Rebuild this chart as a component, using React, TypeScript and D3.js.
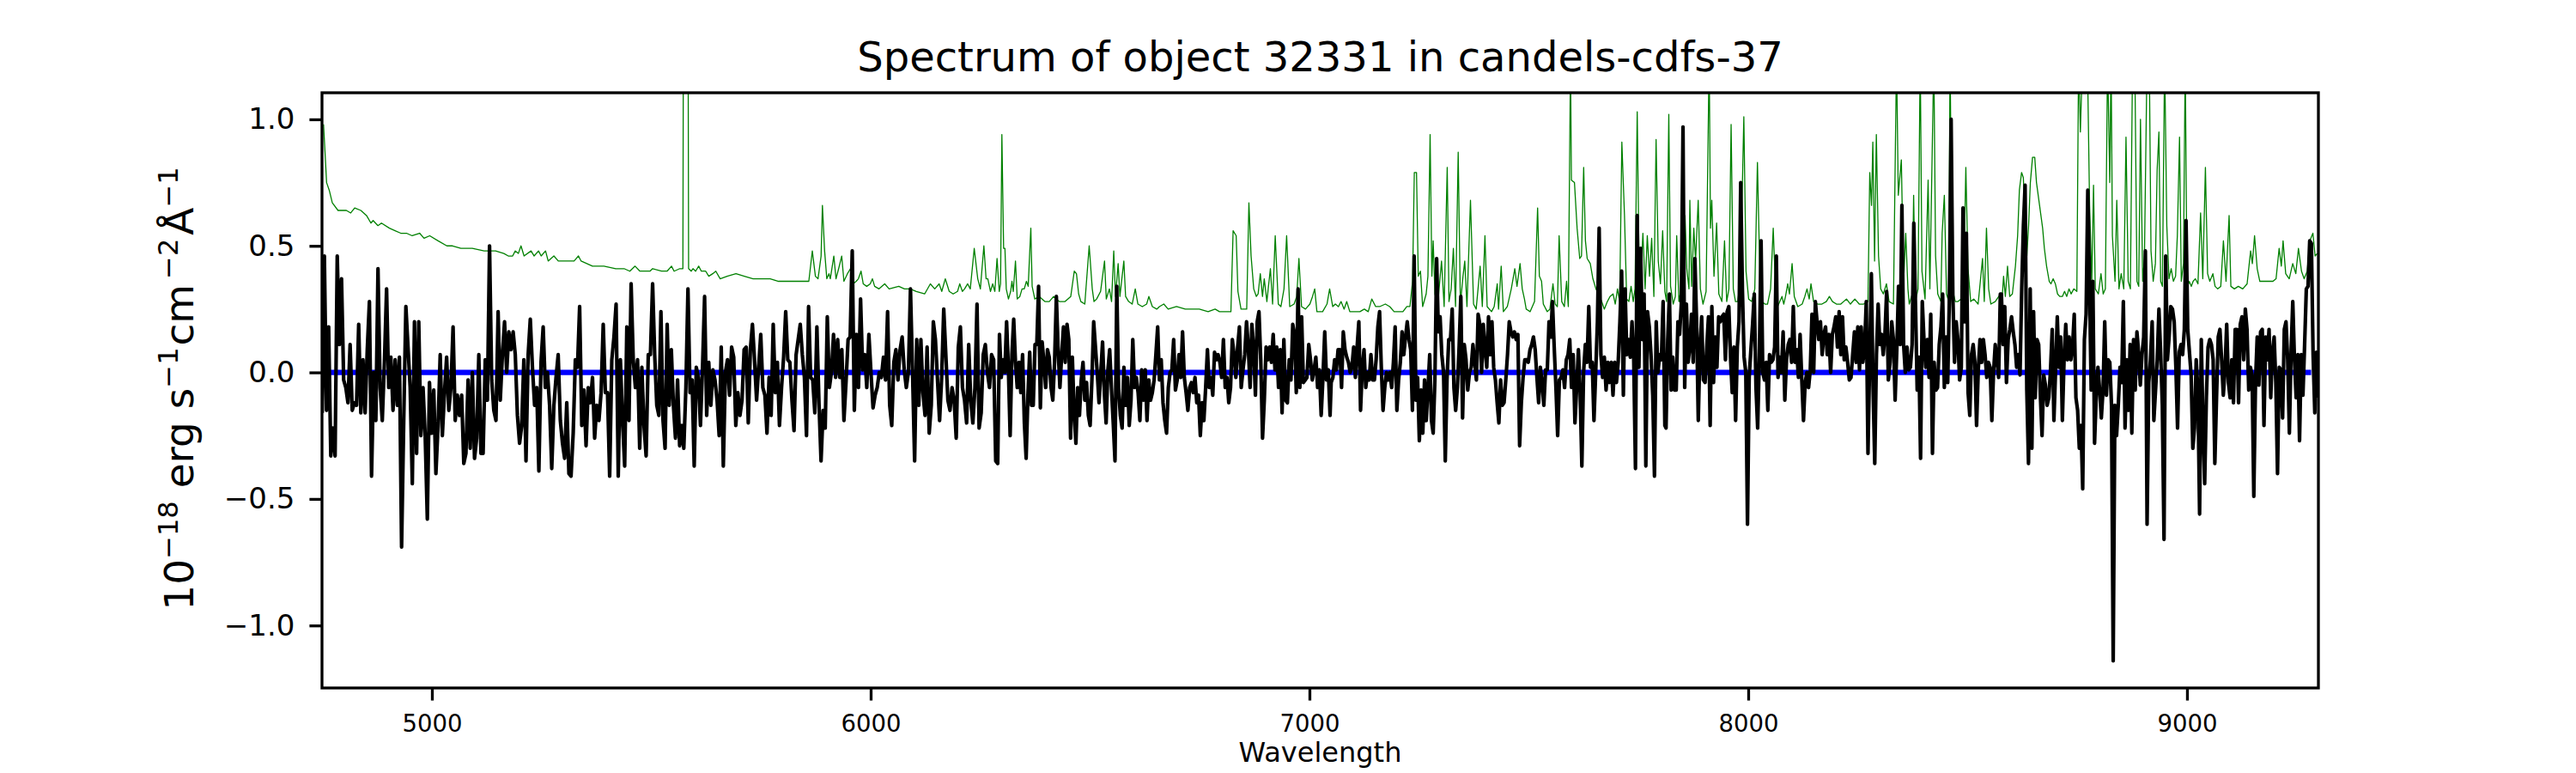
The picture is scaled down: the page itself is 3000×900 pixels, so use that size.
import React, { useEffect, useRef } from "react";
import * as d3 from "d3";

const FLUX_RANGES: [number, number][] = [
  [4750, 5498],
  [5503, 6285],
  [6289.5, 7047],
  [7049.5, 7810],
  [7812.7, 8574.6],
  [8577, 9299],
];

const FLUX_1 = [
  -0.16, 0.46, -0.15, 0.18, -0.33, -0.22, -0.33, 0.46, 0.11, 0.37, -0.03, -0.06, -0.12, 0.11, -0.15, -0.12, -0.13, 0.19,
  -0.16, 0.05, -0.16, 0.09, 0.28, -0.41, 0.0, -0.19, 0.41, -0.06, -0.19, 0.04, 0.33, -0.06, 0.06, -0.15, 0.05, -0.13, 0.06,
  -0.69, -0.19, 0.26, 0.1, -0.06, -0.44, 0.2, -0.32, 0.2, -0.25, -0.06, -0.25, -0.58, -0.04, -0.24, -0.07, -0.4, -0.21,
  0.07, -0.25, -0.08, 0.06, -0.15, -0.06, 0.18, -0.19, -0.09, -0.17, -0.09, -0.36, -0.32, -0.03, -0.3, 0.0, -0.34, -0.26,
  0.07, -0.32, -0.32, 0.05, -0.11, 0.5, -0.03, -0.15, -0.19, 0.24, -0.11, 0.07, 0.2, 0.0, 0.16, 0.09, 0.16, 0.07, -0.17,
  -0.28, -0.21, 0.05, -0.35, 0.07, 0.21, 0.02, -0.13, -0.06, -0.39, 0.04, 0.18, -0.06, 0.0, -0.13, -0.38, -0.13, -0.02,
  0.07, -0.19, -0.28, -0.34, -0.12, -0.4, -0.41, -0.24, 0.05, 0.02, 0.26, -0.21, -0.07, -0.29, -0.06, -0.12, -0.02, -0.26,
  -0.13, -0.19, -0.08, 0.19, -0.08, -0.08, -0.41, 0.05, 0.14, 0.27, -0.41, 0.05, -0.19, -0.37, 0.18, -0.19, 0.35, 0.05,
  -0.06, 0.05, -0.3, 0.02, -0.21, -0.33, 0.07, 0.07,
];

const FLUX_2 = [
  0.35, 0.07, -0.13, -0.17, 0.24, -0.19, -0.3, 0.19, -0.13, 0.09, -0.13, -0.26, -0.03, -0.29, -0.21, -0.3, -0.06, 0.33,
  -0.08, -0.03, -0.37, 0.02, -0.02, -0.21, 0.02, 0.3, -0.17, 0.04, -0.13, 0.01, -0.03, -0.11, -0.25, 0.1, -0.37, 0.0, 0.05,
  -0.09, 0.1, 0.06, -0.21, -0.08, -0.17, -0.11, 0.09, 0.1, -0.2, 0.09, 0.19, 0.05, -0.11, 0.02, 0.15, -0.06, -0.09, -0.24,
  -0.02, -0.17, 0.19, -0.08, 0.04, -0.21, -0.06, 0.06, 0.24, 0.05, 0.04, -0.11, -0.23, 0.07, 0.13, 0.19, 0.07, -0.02, -0.25,
  0.26, -0.02, -0.03, -0.16, 0.18, -0.12, -0.35, -0.15, -0.22, 0.22, -0.06, 0.0, 0.15, -0.02, 0.13, -0.02, 0.09, -0.19,
  -0.04, 0.13, 0.14, 0.48, -0.15, 0.15, -0.06, 0.29, 0.01, 0.07, -0.06, 0.15, 0.0, -0.14, -0.09, -0.06, 0.0, -0.02, 0.06,
  -0.03, 0.24, -0.13, -0.21, 0.04, 0.09, -0.03, 0.09, 0.14, 0.01, -0.06, 0.0, 0.33, 0.0, -0.35, 0.13, -0.13, 0.13, -0.08,
  -0.17, 0.1, -0.24, -0.13, 0.2, 0.13, -0.03, -0.19, -0.02, 0.25, 0.07, -0.11, -0.15, -0.06, -0.11, -0.26, 0.1, 0.18, -0.06,
  -0.11, -0.2, 0.11, -0.11, -0.2, -0.06, 0.27, -0.22, -0.16, 0.07, 0.11, 0.0, -0.06, 0.07, 0.05, -0.35,
];

const FLUX_3 = [
  -0.36, 0.15, -0.02, 0.05, 0.0, 0.2, 0.02, -0.25, 0.07, 0.21, 0.04, -0.06, 0.04, -0.08, 0.07, -0.2, -0.34, -0.09, 0.08,
  -0.13, -0.13, 0.11, 0.11, 0.34, -0.14, 0.12, 0.04, -0.06, 0.09, 0.06, -0.06, -0.11, 0.04, 0.3, 0.09, -0.06, 0.07, 0.18,
  0.04, 0.19, 0.13, -0.26, 0.06, -0.16, -0.28, -0.06, -0.17, -0.03, 0.04, -0.11, -0.04, -0.17, -0.21, -0.03, 0.2, 0.1, 0.0,
  -0.12, 0.0, 0.12, -0.08, -0.2, 0.01, 0.09, -0.06, -0.2, -0.35, 0.34, -0.06, -0.17, -0.22, 0.02, -0.13, -0.02, -0.21,
  -0.11, 0.13, -0.06, -0.02, -0.08, -0.19, 0.01, -0.11, 0.01, -0.19, -0.03, -0.11, -0.08, -0.03, 0.07, 0.18, -0.03, 0.05,
  -0.12, -0.19, -0.24, -0.06, 0.0, 0.01, 0.13, -0.07, -0.03, 0.07, -0.02, 0.16, -0.02, -0.08, -0.15, -0.06, -0.04, -0.08,
  -0.02, -0.12, -0.09, -0.25, -0.12, -0.19, -0.06, 0.09, -0.06, -0.02, -0.09, 0.08, 0.05, 0.07, 0.04, -0.02, 0.13, -0.06,
  -0.02, -0.12, -0.06, 0.13, 0.07, -0.02, 0.1, 0.18, -0.06, 0.01, 0.07, 0.2, 0.1, -0.06, 0.19, 0.1, -0.09, 0.2, 0.24, 0.05,
  -0.26, -0.11, 0.1, 0.05, 0.1, 0.04, 0.15, 0.01, 0.1, -0.06, 0.09, -0.16, 0.13, -0.11, -0.12, 0.05, -0.03, 0.19, 0.15,
  -0.08, 0.33, -0.06, 0.22, -0.04, -0.03, -0.02, 0.11, 0.05, -0.03, 0.01, 0.06, -0.06, 0.01, -0.17, -0.02, 0.16, -0.03,
  0.01, -0.17,
];

const FLUX_4 = [
  -0.04, -0.02, 0.05, 0.01, 0.09, 0.09, -0.06, 0.16, 0.09, 0.06, 0.04, 0.0, 0.02, 0.1, -0.02, 0.1, 0.2, -0.15, 0.02, 0.09,
  -0.06, 0.0, -0.03, 0.07, -0.03, -0.03, 0.05, 0.18, 0.24, 0.02, -0.15, -0.06, 0.0, -0.03, 0.0, -0.06, 0.04, 0.18, -0.15,
  -0.03, 0.04, 0.16, 0.07, 0.14, 0.2, 0.13, 0.09, -0.15, 0.46, -0.11, -0.02, -0.27, -0.07, -0.24, -0.03, -0.19, -0.06, 0.07,
  -0.19, -0.24, -0.03, 0.45, 0.16, 0.22, 0.07, 0.0, -0.35, -0.03, 0.13, 0.13, 0.25, -0.06, -0.15, -0.06, 0.1, 0.3, -0.18,
  0.11, 0.05, -0.07, 0.0, 0.02, 0.11, 0.04, -0.03, 0.23, 0.19, 0.0, 0.19, 0.09, 0.02, 0.22, 0.07, 0.2, 0.02, -0.03, -0.12,
  -0.2, -0.03, -0.13, -0.12, -0.03, 0.07, 0.2, 0.16, 0.14, 0.16, 0.13, 0.15, -0.29, -0.12, -0.02, 0.05, 0.05, 0.04, 0.09,
  0.11, 0.14, 0.09, -0.02, -0.12, 0.02, -0.04, -0.13, 0.01, 0.01, 0.2, 0.14, 0.28, 0.1, -0.06, -0.25, -0.03, -0.02, 0.01,
  -0.06, 0.05, 0.07, 0.13, -0.06, 0.07, -0.2, -0.06, 0.09, -0.08, -0.37, 0.0, 0.11, 0.04, 0.26, 0.02, 0.04, -0.19, 0.0, 0.2,
  0.57, 0.07, -0.02, 0.06, -0.07, 0.04, -0.04, 0.04, -0.09, 0.04, -0.04, 0.04, 0.2, 0.4, -0.09, 0.33, 0.07, 0.13, 0.06, 0.2,
  0.05, -0.38, 0.62, 0.02, 0.49, 0.13, 0.31, -0.37, 0.24, 0.18, 0.07, -0.09, -0.41, 0.2, 0.0, 0.07, 0.05, 0.28, -0.21,
];

const FLUX_5 = [
  -0.22, 0.13, 0.31, -0.07, 0.06, -0.07, -0.07, 0.2, 0.15, 0.27, 0.97, -0.06, 0.27, 0.04, 0.1, 0.23, 0.04, 0.45, 0.2, -0.19,
  0.1, 0.22, -0.03, -0.04, 0.1, 0.22, -0.21, 0.26, -0.04, 0.14, 0.02, 0.22, 0.2, 0.22, 0.23, 0.05, 0.24, 0.26, 0.06, -0.08,
  0.1, -0.19, 0.1, 0.2, 0.75, 0.33, 0.06, 0.0, -0.6, -0.02, 0.09, 0.19, 0.31, -0.06, -0.22, 0.07, 0.52, 0.0, -0.03, 0.04,
  -0.15, 0.07, 0.04, 0.05, 0.1, 0.46, -0.02, 0.06, 0.0, 0.16, -0.11, 0.05, 0.11, 0.13, 0.04, 0.26, 0.04, 0.09, -0.02, 0.15,
  -0.03, -0.19, -0.04, 0.0, -0.06, 0.01, 0.23, 0.0, 0.28, 0.2, 0.13, 0.2, 0.07, 0.15, 0.18, 0.07, 0.15, 0.0, 0.15, 0.18,
  0.22, 0.1, 0.24, 0.07, 0.22, 0.05, 0.1, 0.04, -0.03, -0.02, 0.07, 0.16, 0.04, 0.18, 0.01, 0.18, 0.04, 0.1, 0.28, -0.32,
  0.05, 0.39, -0.06, -0.36, 0.07, 0.27, 0.11, 0.15, 0.07, 0.15, 0.32, -0.03, 0.04, 0.2, 0.13, -0.11, 0.09, 0.34, 0.11, 0.66,
  0.11, 0.0, 0.1, 0.01, 0.02, 0.11, 0.59, 0.27, -0.07, 0.06, -0.34, 0.28, 0.13, 0.02, 0.13, -0.02, 0.23, -0.32, 0.04, -0.07,
  -0.06, 0.11, 0.18, 0.31, -0.06, 0.14, -0.04, 0.31, 1.0, 0.31, 0.04, 0.2, 0.13, -0.03, 0.02, 0.65, 0.2, 0.55, -0.08, -0.17,
  0.07, 0.11, 0.04, -0.21, 0.01, 0.13, 0.04, 0.13, 0.07, -0.02, 0.04, 0.02, -0.19, 0.0, 0.11, 0.05, -0.02, 0.31,
];

const FLUX_6 = [
  0.31, 0.11, 0.26, -0.04, 0.13, 0.17, 0.22, 0.16, 0.11, 0.02, 0.07, -0.01, 0.33, 0.58, 0.74, -0.07, -0.36, 0.33, -0.3, 0.24,
  -0.1, 0.13, 0.11, -0.09, -0.25, -0.01, -0.05, -0.13, -0.1, 0.01, 0.17, -0.19, 0.01, 0.22, 0.02, 0.14, -0.19, 0.05, 0.19,
  0.05, 0.14, 0.05, 0.1, 0.23, -0.1, -0.15, -0.3, -0.21, -0.46, 0.13, 0.23, 0.72, 0.36, -0.07, 0.36, -0.28, -0.09, 0.02,
  -0.07, -0.18, -0.07, 0.2, -0.09, 0.05, 0.04, -0.13, -1.14, -0.13, -0.25, -0.13, 0.02, -0.04, 0.28, -0.22, 0.05, -0.15,
  0.11, -0.24, 0.13, -0.07, 0.16, 0.08, -0.05, 0.07, 0.14, 0.48, -0.6, -0.04, 0.05, 0.2, -0.19, -0.07, 0.05, 0.25, 0.08,
  -0.13, -0.66, 0.46, 0.05, 0.14, 0.26, 0.25, 0.2, 0.02, -0.22, 0.08, 0.11, 0.07, 0.17, 0.6, 0.17, 0.08, -0.01, -0.3, -0.22,
  0.05, -0.07, -0.56, 0.13, -0.21, -0.44, -0.1, 0.1, 0.13, 0.11, 0.05, -0.36, -0.1, 0.14, 0.17, 0.05, -0.09, 0.01, 0.19,
  -0.04, -0.1, 0.05, -0.12, 0.17, 0.17, -0.12, 0.19, 0.22, 0.05, 0.25, 0.17, -0.07, 0.02, -0.01, -0.49, -0.04, 0.14, -0.05,
  0.16, 0.17, -0.21, 0.14, 0.05, 0.17, -0.1, 0.08, 0.14, -0.04, -0.4, 0.02, 0.01, -0.18, 0.17, 0.2, 0.05, -0.24, 0.08, 0.28,
  0.05, -0.1, 0.07, -0.27, 0.07, -0.09, 0.11, 0.33, 0.34, 0.52, 0.51, 0.07, -0.16, 0.08, -0.1,
];

// Noise spectrum, [wavelength, value]; sky lines run past the top of the axes
const ERR_1: [number, number][] = [
  [4753, 0.98], [4760, 0.75], [4766, 0.72], [4773, 0.67], [4786, 0.64], [4805, 0.64], [4815, 0.63], [4824, 0.65],
  [4838, 0.64], [4851, 0.62], [4861, 0.59], [4866, 0.6], [4877, 0.58], [4885, 0.59], [4903, 0.57], [4916, 0.56],
  [4929, 0.55], [4942, 0.55], [4955, 0.54], [4972, 0.55], [4982, 0.53], [4995, 0.54], [5014, 0.52], [5034, 0.5],
  [5047, 0.5], [5066, 0.49], [5092, 0.49], [5119, 0.48], [5145, 0.48], [5164, 0.47], [5174, 0.46], [5184, 0.46],
  [5190, 0.48], [5197, 0.47], [5203, 0.5], [5210, 0.46], [5226, 0.48], [5233, 0.46], [5243, 0.48], [5249, 0.46],
  [5259, 0.48], [5265, 0.44], [5278, 0.46], [5288, 0.44], [5301, 0.44], [5314, 0.44], [5324, 0.44], [5334, 0.46],
  [5340, 0.44], [5366, 0.42], [5392, 0.42], [5419, 0.41], [5438, 0.41], [5451, 0.4], [5463, 0.42], [5474, 0.4],
  [5497, 0.4],
];

const ERR_2: [number, number][] = [
  [5503, 0.41], [5523, 0.4], [5536, 0.4], [5546, 0.42], [5552, 0.4], [5565, 0.41], [5572, 0.41], [5575, 3.0], [5582, 3.0],
  [5585, 0.41], [5591, 0.4], [5595, 0.41], [5601, 0.4], [5608, 0.42], [5614, 0.4], [5624, 0.4], [5631, 0.38], [5640, 0.39],
  [5647, 0.4], [5657, 0.37], [5673, 0.38], [5693, 0.39], [5712, 0.38], [5732, 0.37], [5751, 0.37], [5771, 0.37],
  [5790, 0.36], [5810, 0.36], [5830, 0.36], [5859, 0.36], [5867, 0.48], [5874, 0.38], [5880, 0.37], [5887, 0.46],
  [5890, 0.66], [5895, 0.48], [5900, 0.37], [5905, 0.39], [5908, 0.37], [5916, 0.46], [5921, 0.37], [5927, 0.41],
  [5934, 0.46], [5939, 0.36], [5947, 0.39], [5954, 0.41], [5960, 0.35], [5967, 0.36], [5972, 0.37], [5978, 0.4],
  [5983, 0.35], [5991, 0.34], [5999, 0.35], [6004, 0.37], [6009, 0.34], [6019, 0.33], [6032, 0.35], [6042, 0.33],
  [6064, 0.34], [6077, 0.33], [6090, 0.33], [6104, 0.32], [6123, 0.31], [6136, 0.35], [6146, 0.33], [6156, 0.35],
  [6162, 0.32], [6170, 0.37], [6179, 0.32], [6188, 0.31], [6198, 0.32], [6203, 0.35], [6209, 0.32], [6214, 0.33],
  [6221, 0.35], [6227, 0.33], [6236, 0.49], [6244, 0.37], [6250, 0.33], [6258, 0.5], [6263, 0.37],
];

const ERR_3: [number, number][] = [
  [6267, 0.37], [6273, 0.32], [6278, 0.35], [6283, 0.32], [6288, 0.45], [6293, 0.32], [6296, 0.35], [6299, 0.94],
  [6303, 0.49], [6306, 0.49], [6309, 0.33], [6314, 0.29], [6319, 0.32], [6322, 0.36], [6325, 0.32], [6330, 0.44],
  [6334, 0.29], [6340, 0.3], [6345, 0.33], [6350, 0.33], [6355, 0.36], [6359, 0.34], [6365, 0.57], [6368, 0.34],
  [6374, 0.29], [6384, 0.3], [6397, 0.28], [6407, 0.28], [6417, 0.3], [6422, 0.29], [6430, 0.28], [6443, 0.28],
  [6456, 0.3], [6464, 0.4], [6469, 0.39], [6474, 0.31], [6479, 0.28], [6488, 0.27], [6498, 0.5], [6505, 0.33],
  [6509, 0.28], [6515, 0.29], [6524, 0.32], [6533, 0.44], [6537, 0.29], [6544, 0.33], [6549, 0.28], [6554, 0.48],
  [6558, 0.3], [6564, 0.43], [6568, 0.3], [6577, 0.44], [6581, 0.3], [6588, 0.28], [6596, 0.27], [6603, 0.33],
  [6609, 0.27], [6619, 0.26], [6629, 0.27], [6634, 0.3], [6642, 0.26], [6652, 0.25], [6658, 0.26], [6668, 0.27],
  [6678, 0.25], [6697, 0.26], [6717, 0.25], [6736, 0.25], [6749, 0.25], [6769, 0.24], [6785, 0.25], [6795, 0.24],
  [6821, 0.24], [6826, 0.56], [6833, 0.54], [6837, 0.32], [6844, 0.25], [6857, 0.25], [6862, 0.67], [6867, 0.46],
  [6873, 0.33], [6879, 0.3], [6883, 0.31], [6888, 0.39], [6893, 0.3], [6897, 0.37], [6903, 0.28], [6906, 0.33],
  [6911, 0.41], [6916, 0.27], [6922, 0.54], [6929, 0.27], [6935, 0.26], [6942, 0.33], [6948, 0.54], [6955, 0.26],
  [6965, 0.27], [6971, 0.3], [6976, 0.45], [6982, 0.26], [6991, 0.25], [7001, 0.27], [7007, 0.3], [7012, 0.33],
  [7017, 0.24], [7027, 0.24],
];

const ERR_4: [number, number][] = [
  [7030, 0.24], [7040, 0.27], [7046, 0.33], [7053, 0.26], [7059, 0.27], [7066, 0.26], [7072, 0.28], [7079, 0.25],
  [7085, 0.28], [7092, 0.24], [7102, 0.24], [7115, 0.24], [7125, 0.25], [7134, 0.24], [7142, 0.29], [7151, 0.26],
  [7160, 0.26], [7173, 0.27], [7183, 0.26], [7193, 0.24], [7203, 0.24], [7213, 0.24], [7222, 0.26], [7229, 0.26],
  [7235, 0.36], [7239, 0.79], [7244, 0.79], [7248, 0.38], [7253, 0.4], [7258, 0.26], [7266, 0.31], [7270, 0.38],
  [7275, 0.94], [7279, 0.38], [7282, 0.52], [7286, 0.31], [7292, 0.26], [7301, 0.44], [7307, 0.26], [7314, 0.81],
  [7318, 0.28], [7323, 0.33], [7328, 0.49], [7333, 0.26], [7339, 0.87], [7344, 0.27], [7350, 0.38], [7354, 0.44],
  [7359, 0.26], [7367, 0.68], [7374, 0.27], [7380, 0.25], [7389, 0.42], [7394, 0.26], [7400, 0.54], [7405, 0.26],
  [7415, 0.24], [7421, 0.26], [7428, 0.35], [7431, 0.25], [7437, 0.42], [7442, 0.24], [7451, 0.26], [7460, 0.33],
  [7468, 0.41], [7473, 0.34], [7480, 0.43], [7485, 0.33], [7490, 0.29], [7494, 0.25], [7503, 0.24], [7513, 0.28],
  [7520, 0.65], [7524, 0.38], [7529, 0.36], [7533, 0.27], [7542, 0.24], [7548, 0.25], [7555, 0.35], [7560, 0.27],
  [7565, 0.26], [7569, 0.54], [7575, 0.28], [7581, 0.26], [7586, 0.36], [7590, 0.26], [7595, 1.25], [7597, 0.76],
  [7604, 0.75], [7610, 0.57], [7616, 0.45], [7620, 0.46], [7625, 0.81], [7629, 0.52], [7633, 0.45], [7640, 0.43],
  [7646, 0.37], [7653, 0.33], [7659, 0.31], [7666, 0.28], [7672, 0.25], [7679, 0.28], [7685, 0.3], [7692, 0.31],
  [7697, 0.27], [7702, 0.33], [7707, 0.28], [7712, 0.91], [7718, 0.62], [7723, 0.29], [7728, 0.28], [7733, 0.34],
  [7738, 0.28], [7742, 0.33], [7747, 1.03], [7751, 0.46], [7755, 0.37], [7760, 0.55], [7765, 0.33], [7770, 0.54],
  [7775, 0.38], [7780, 0.53], [7785, 0.3], [7790, 0.92], [7795, 0.44], [7800, 0.35], [7805, 0.56], [7810, 0.32],
];

const ERR_5: [number, number][] = [
  [7814, 0.28], [7819, 1.02], [7823, 0.34], [7829, 0.27], [7834, 0.3], [7837, 0.54], [7842, 0.28], [7847, 0.33],
  [7852, 0.31], [7856, 0.62], [7860, 0.41], [7865, 0.33], [7867, 0.68], [7871, 0.34], [7876, 0.57], [7880, 0.44],
  [7886, 0.68], [7891, 0.33], [7897, 0.27], [7904, 0.32], [7911, 1.25], [7914, 0.57], [7917, 0.68], [7922, 0.38],
  [7928, 0.59], [7933, 0.31], [7940, 0.28], [7946, 0.52], [7951, 0.28], [7956, 0.33], [7961, 0.98], [7966, 0.33],
  [7971, 0.28], [7976, 0.28], [7982, 0.36], [7990, 1.01], [7995, 0.4], [8001, 0.29], [8008, 0.28], [8015, 0.33],
  [8021, 0.83], [8027, 0.35], [8031, 0.28], [8038, 0.27], [8044, 0.27], [8051, 0.33], [8057, 0.57], [8062, 0.34],
  [8067, 0.26], [8072, 0.28], [8077, 0.3], [8081, 0.27], [8085, 0.3], [8090, 0.35], [8094, 0.31], [8100, 0.43],
  [8105, 0.3], [8113, 0.26], [8123, 0.27], [8129, 0.3], [8134, 0.33], [8139, 0.29], [8143, 0.35], [8149, 0.28],
  [8158, 0.27], [8168, 0.27], [8178, 0.28], [8185, 0.3], [8192, 0.28], [8201, 0.27], [8211, 0.27], [8224, 0.29],
  [8233, 0.27], [8243, 0.29], [8253, 0.27], [8263, 0.27], [8273, 0.28], [8277, 0.79], [8281, 0.66], [8284, 0.91],
  [8288, 0.44], [8292, 0.94], [8297, 0.46], [8302, 0.33], [8308, 0.31], [8315, 0.35], [8321, 0.28], [8331, 0.27],
  [8338, 1.25], [8342, 0.7], [8349, 0.84], [8354, 0.35], [8359, 0.55], [8364, 0.33], [8367, 0.27], [8374, 0.31],
  [8377, 0.7], [8381, 0.28], [8387, 0.33], [8392, 1.25], [8396, 0.4], [8403, 0.29], [8410, 0.76], [8414, 0.33],
  [8423, 1.25], [8427, 0.46], [8432, 0.31], [8439, 0.28], [8442, 0.55], [8447, 0.7], [8452, 0.31], [8457, 0.28],
  [8460, 1.25], [8465, 0.33], [8472, 0.28], [8478, 0.28], [8485, 0.29], [8491, 0.36], [8496, 0.81], [8501, 0.41],
  [8507, 0.28], [8514, 0.29], [8524, 0.27], [8534, 0.45], [8538, 0.28], [8543, 0.57], [8548, 0.33], [8553, 0.27],
  [8563, 0.28], [8575, 0.31],
];

const ERR_6: [number, number][] = [
  [8579, 0.3], [8582, 0.38], [8586, 0.3], [8591, 0.42], [8596, 0.3], [8602, 0.31], [8609, 0.42], [8614, 0.54], [8618, 0.72],
  [8623, 0.79], [8627, 0.77], [8631, 0.61], [8635, 0.46], [8639, 0.58], [8643, 0.75], [8648, 0.85], [8653, 0.85],
  [8657, 0.75], [8664, 0.66], [8671, 0.57], [8675, 0.49], [8680, 0.42], [8686, 0.36], [8690, 0.35], [8695, 0.37],
  [8700, 0.35], [8705, 0.31], [8710, 0.3], [8716, 0.3], [8721, 0.32], [8726, 0.3], [8731, 0.33], [8736, 0.31],
  [8742, 0.33], [8749, 0.32], [8753, 1.25], [8757, 0.95], [8762, 1.25], [8768, 1.25], [8773, 1.25], [8778, 0.66],
  [8783, 0.36], [8787, 0.74], [8791, 0.33], [8798, 0.31], [8804, 0.39], [8809, 0.31], [8814, 0.33], [8819, 1.25],
  [8824, 0.75], [8827, 1.25], [8830, 0.54], [8836, 0.36], [8840, 0.68], [8845, 0.33], [8850, 0.39], [8856, 0.33],
  [8861, 0.93], [8866, 0.36], [8871, 0.33], [8876, 1.25], [8881, 1.25], [8886, 0.36], [8890, 0.34], [8894, 1.0],
  [8899, 0.36], [8903, 0.45], [8909, 1.25], [8914, 1.25], [8918, 0.48], [8923, 0.36], [8928, 0.43], [8932, 0.8],
  [8936, 0.95], [8940, 0.36], [8944, 0.34], [8949, 1.25], [8954, 0.58], [8959, 0.37], [8964, 0.41], [8969, 0.36],
  [8974, 0.38], [8978, 0.54], [8983, 0.93], [8987, 0.36], [8992, 0.43], [8996, 1.25], [9000, 0.33], [9005, 0.36],
  [9010, 0.34], [9014, 0.36], [9019, 0.37], [9025, 0.35], [9031, 0.63], [9036, 0.37], [9042, 0.81], [9047, 0.39],
  [9052, 0.36], [9059, 0.39], [9064, 0.34], [9070, 0.33], [9077, 0.34], [9083, 0.52], [9089, 0.36], [9096, 0.62],
  [9100, 0.34], [9108, 0.33], [9117, 0.34], [9127, 0.33], [9137, 0.35], [9145, 0.48], [9149, 0.43], [9154, 0.54],
  [9160, 0.41], [9166, 0.36], [9176, 0.36], [9186, 0.36], [9196, 0.36], [9203, 0.37], [9210, 0.49], [9215, 0.42],
  [9219, 0.52], [9225, 0.39], [9233, 0.37], [9241, 0.43], [9248, 0.39], [9254, 0.49], [9261, 0.4], [9267, 0.37],
  [9274, 0.4], [9280, 0.52], [9287, 0.55], [9292, 0.46], [9297, 0.47],
];

// Model (flat zero) over the observed range
const MODEL_WAVE = [4752, 9283];
const MODEL_FLUX = [0, 0];

const X_TICKS = [5000, 6000, 7000, 8000, 9000];
const Y_TICKS = [-1.0, -0.5, 0.0, 0.5, 1.0];

const TITLE = "Spectrum of object 32331 in candels-cdfs-37";
const X_LABEL = "Wavelength";

const FONT = "DejaVu Sans, sans-serif";

const Spectrum: React.FC = () => {
  const ref = useRef<SVGSVGElement | null>(null);

  useEffect(() => {
    const svg = d3.select(ref.current);
    svg.selectAll("*").remove();

    const width = 3000;
    const height = 900;
    const margin = { top: 108, right: 300, bottom: 99, left: 375 };
    const x0 = margin.left;
    const x1 = width - margin.right;
    const y0 = margin.top;
    const y1 = height - margin.bottom;

    svg.attr("width", width).attr("height", height).attr("viewBox", `0 0 ${width} ${height}`);
    svg.append("rect").attr("width", width).attr("height", height).attr("fill", "#fff");

    const x = d3.scaleLinear().domain([4749.5, 9299.5]).range([x0, x1]);
    const y = d3.scaleLinear().domain([-1.247, 1.105]).range([y1, y0]);

    svg
      .append("defs")
      .append("clipPath")
      .attr("id", "plot-clip")
      .append("rect")
      .attr("x", x0)
      .attr("y", y0)
      .attr("width", x1 - x0)
      .attr("height", y1 - y0);

    const line = d3
      .line<[number, number]>()
      .x((d) => x(d[0]))
      .y((d) => y(d[1]));

    const flux: [number, number][] = [FLUX_1, FLUX_2, FLUX_3, FLUX_4, FLUX_5, FLUX_6].flatMap((vals, k) => {
      const [a, b] = FLUX_RANGES[k];
      return vals.map((v, i) => [a + ((b - a) * i) / (vals.length - 1), v] as [number, number]);
    });
    const err = [...ERR_1, ...ERR_2, ...ERR_3, ...ERR_4, ...ERR_5, ...ERR_6];
    const model: [number, number][] = MODEL_WAVE.map((w, i) => [w, MODEL_FLUX[i]]);

    const plot = svg.append("g").attr("clip-path", "url(#plot-clip)");

    plot
      .append("path")
      .datum(err)
      .attr("d", line)
      .attr("fill", "none")
      .attr("stroke", "#008000")
      .attr("stroke-width", 1.3)
      .attr("stroke-linejoin", "round");

    plot
      .append("path")
      .datum(model)
      .attr("d", line)
      .attr("fill", "none")
      .attr("stroke", "#0000ff")
      .attr("stroke-width", 6.25);

    plot
      .append("path")
      .datum(flux)
      .attr("d", line)
      .attr("fill", "none")
      .attr("stroke", "#000")
      .attr("stroke-width", 4.2)
      .attr("stroke-linejoin", "round");

    // X axis
    const gx = svg
      .append("g")
      .attr("transform", `translate(0,${y1})`)
      .call(d3.axisBottom(x).tickValues(X_TICKS).tickSize(14.6).tickPadding(16.5).tickFormat(d3.format("d")));
    gx.select(".domain").remove();
    gx.selectAll("line").attr("stroke", "#000").attr("stroke-width", 3.3);
    gx.selectAll("text").attr("fill", "#000").style("font-family", FONT).style("font-size", "27.5px");

    // Y axis
    const gy = svg
      .append("g")
      .attr("transform", `translate(${x0},0)`)
      .call(
        d3
          .axisLeft(y)
          .tickValues(Y_TICKS)
          .tickSize(14.6)
          .tickPadding(17)
          .tickFormat((d) => d3.format(".1f")(d as number).replace("-", "\u2212"))
      );
    gy.select(".domain").remove();
    gy.selectAll("line").attr("stroke", "#000").attr("stroke-width", 3.3);
    gy.selectAll("text").attr("fill", "#000").style("font-family", FONT).style("font-size", "34px");

    // Frame
    svg
      .append("rect")
      .attr("x", x0)
      .attr("y", y0)
      .attr("width", x1 - x0)
      .attr("height", y1 - y0)
      .attr("fill", "none")
      .attr("stroke", "#000")
      .attr("stroke-width", 3.3);

    // Title
    svg
      .append("text")
      .attr("x", (x0 + x1) / 2)
      .attr("y", 83)
      .attr("text-anchor", "middle")
      .style("font-family", FONT)
      .style("font-size", "48px")
      .text(TITLE);

    // X label
    svg
      .append("text")
      .attr("x", (x0 + x1) / 2)
      .attr("y", 887)
      .attr("text-anchor", "middle")
      .style("font-family", FONT)
      .style("font-size", "32px")
      .text(X_LABEL);

    // Y label with superscripts: [text, superscript?, extra gap before]
    const yl = svg
      .append("text")
      .attr("transform", `translate(225,${(y0 + y1) / 2 - 2}) rotate(-90)`)
      .attr("text-anchor", "middle")
      .style("font-family", FONT)
      .style("font-size", "47px")
      .style("white-space", "pre");
    const parts: [string, boolean, number][] = [
      ["10", false, 0],
      ["\u221218", true, 0],
      [" erg s", false, 0],
      ["\u22121", true, 0],
      ["cm", false, 2],
      ["\u22122", true, 6],
      ["\u00c5", false, 4],
      ["\u22121", true, 0],
    ];
    let up = false;
    parts.forEach(([t, sup, gap]) => {
      const ts = yl.append("tspan").text(t);
      if (sup && !up) ts.attr("dy", -18.5);
      if (!sup && up) ts.attr("dy", 18.5);
      if (gap) ts.attr("dx", gap);
      if (sup) ts.style("font-size", "32px");
      up = sup;
    });
  }, []);

  return <svg ref={ref} style={{ position: "absolute", left: 0, top: 0, display: "block" }} />;
};

export default function App() {
  return <Spectrum />;
}
